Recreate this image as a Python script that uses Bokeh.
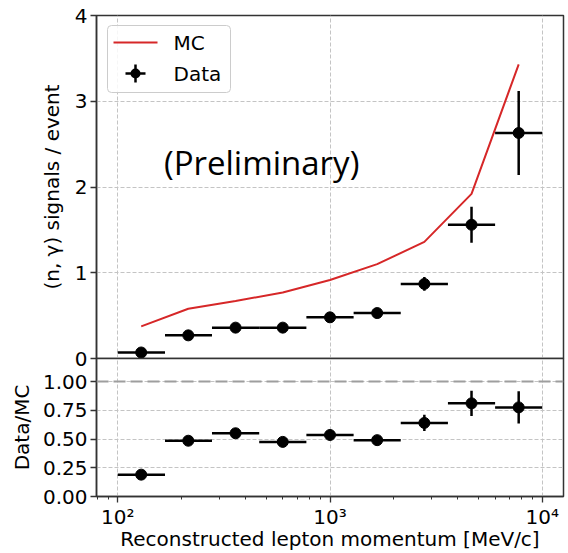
from bokeh.plotting import figure
from bokeh.layouts import column
from bokeh.models import (Range1d, FixedTicker, Label, BoxAnnotation, Arrow, Span,
                          ColumnDataSource, NumeralTickFormatter)
from bokeh.embed import file_html
from bokeh.resources import INLINE

# ---------------- data ----------------
bin_edges = [100, 167, 278, 464, 774, 1292, 2154, 3594, 5995, 10000]
bin_centers = [129, 215, 359, 599, 1000, 1668, 2783, 4642, 7743]
mc_signals = [0.375, 0.58, 0.67, 0.77, 0.915, 1.10, 1.36, 1.92, 3.43]
data_signals = [0.07, 0.27, 0.36, 0.36, 0.48, 0.53, 0.87, 1.56, 2.63]
data_errors = [0.02, 0.025, 0.03, 0.03, 0.035, 0.04, 0.08, 0.21, 0.49]
ratio_values = [0.19, 0.485, 0.55, 0.475, 0.535, 0.49, 0.64, 0.81, 0.775]
ratio_errors = [0.01, 0.015, 0.02, 0.02, 0.025, 0.02, 0.07, 0.11, 0.14]

x_tick_values = [100, 1000, 10000]
x_tick_labels = ["10²", "10³", "10⁴"]
x_minor_values = [80, 90, 200, 300, 400, 500, 600, 700, 800, 900,
                  2000, 3000, 4000, 5000, 6000, 7000, 8000, 9000]
top_y_ticks = [0, 1, 2, 3, 4]
bottom_y_ticks = [0.0, 0.25, 0.5, 0.75, 1.0]

FONT = "DejaVu Sans"
SPINE = "#333333"
GRID = "#c4c4c4"
RED = "#d62728"

W = 568
LEFT, RIGHT = 96, 5
TOP1, F1, BOT1 = 15, 343, 12
TOP2, F2, BOT2 = 12, 138, 57

x_range = Range1d(10 ** 1.9, 10 ** 4.1)


def make_source(y, err):
    return ColumnDataSource(dict(
        x=bin_centers, lo=bin_edges[:-1], hi=bin_edges[1:], y=y,
        ylo=[v - e for v, e in zip(y, err)], yhi=[v + e for v, e in zip(y, err)]))


def style(p):
    p.outline_line_color = SPINE
    p.outline_line_width = 1.5
    p.background_fill_color = "white"
    for ax in (p.xaxis[0], p.yaxis[0]):
        ax.axis_line_color = SPINE
        ax.axis_line_width = 1.5
        ax.major_tick_line_color = SPINE
        ax.minor_tick_line_color = SPINE
        ax.major_tick_line_width = 1.3
        ax.minor_tick_line_width = 1.0
        ax.major_tick_in = 0
        ax.major_tick_out = 6
        ax.minor_tick_in = 0
        ax.minor_tick_out = 3
        ax.major_label_text_font = FONT
        ax.major_label_text_font_size = "20px"
        ax.major_label_text_color = "black"
        ax.axis_label_text_font = FONT
        ax.axis_label_text_font_size = "20px"
        ax.axis_label_text_font_style = "normal"
        ax.axis_label_text_color = "black"
        ax.major_label_standoff = 3
        ax.axis_label_standoff = 8
    p.yaxis[0].minor_tick_line_color = None
    for g in (p.xgrid[0], p.ygrid[0]):
        g.grid_line_color = GRID
        g.grid_line_dash = "4 2"
        g.grid_line_width = 1
    p.xgrid[0].ticker = FixedTicker(ticks=x_tick_values)


def draw_points(p, src):
    p.segment(x0="lo", x1="hi", y0="y", y1="y", source=src, line_color="black", line_width=2.5)
    p.segment(x0="x", x1="x", y0="ylo", y1="yhi", source=src, line_color="black", line_width=2.5)
    p.scatter("x", "y", source=src, size=11, fill_color="black", line_color="black")


def screen_box(**kw):
    return BoxAnnotation(left_units="screen", right_units="screen",
                         top_units="screen", bottom_units="screen", **kw)


def screen_line(x0, y0, x1, y1, color, width):
    return Arrow(end=None, x_start=x0, y_start=y0, x_end=x1, y_end=y1,
                 start_units="screen", end_units="screen",
                 line_color=color, line_width=width)


# ---------------- top panel ----------------
p1 = figure(width=W, height=TOP1 + F1 + BOT1, x_axis_type="log", x_range=x_range,
            y_range=Range1d(0, 4), output_backend="svg", toolbar_location=None,
            min_border_left=LEFT, min_border_right=RIGHT,
            min_border_top=TOP1, min_border_bottom=BOT1)
style(p1)
p1.border_fill_color = "white"
p1.xaxis.visible = False
p1.yaxis.ticker = FixedTicker(ticks=top_y_ticks)
p1.ygrid.ticker = FixedTicker(ticks=top_y_ticks)
p1.yaxis.axis_label = "(n, γ) signals / event"

p1.line(bin_centers, mc_signals, line_color=RED, line_width=2)
draw_points(p1, make_source(data_signals, data_errors))

p1.add_layout(Label(x=165, y=2.28, text="(Preliminary)", text_baseline="middle",
                    text_font="Open Sans", text_font_size="33px", text_color="black"))

# legend drawn by hand (frame-relative screen units, y measured up from frame bottom)
lg_top = F1 - 10
lg_bot = F1 - 77
mc_y = F1 - 27
dt_y = F1 - 58
p1.add_layout(screen_box(left=11, right=134, top=lg_top, bottom=lg_bot,
                         fill_color="white", fill_alpha=0.85,
                         line_color="#cccccc", line_alpha=1.0, line_width=1,
                         border_radius=4))
p1.add_layout(screen_line(17, mc_y, 61, mc_y, RED, 2))
p1.add_layout(screen_line(29, dt_y, 49, dt_y, "black", 2.5))
p1.add_layout(screen_line(39, dt_y - 9, 39, dt_y + 9, "black", 2.5))
p1.add_layout(screen_box(left=34, right=44, bottom=dt_y - 5, top=dt_y + 5,
                         fill_color="black", fill_alpha=1.0, line_alpha=0,
                         border_radius=5))
for txt, yy in (("MC", mc_y), ("Data", dt_y)):
    p1.add_layout(Label(x=77, y=yy, x_units="screen", y_units="screen", text=txt,
                        text_baseline="middle", text_font=FONT, text_font_size="20px",
                        text_color="black"))

# ---------------- bottom panel ----------------
p2 = figure(width=W, height=TOP2 + F2 + BOT2, x_axis_type="log", x_range=x_range,
            y_range=Range1d(0, 1.2), output_backend="svg", toolbar_location=None,
            min_border_left=LEFT, min_border_right=RIGHT,
            min_border_top=TOP2, min_border_bottom=BOT2,
            margin=(-(BOT1 + TOP2), 0, 0, 0))
style(p2)
p2.border_fill_alpha = 0
p2.xaxis.ticker = FixedTicker(ticks=x_tick_values, minor_ticks=x_minor_values)
p2.xaxis.major_label_overrides = dict(zip(x_tick_values, x_tick_labels))
p2.xaxis.major_label_standoff = 2
p2.xaxis.axis_label_standoff = -5
p2.xaxis.axis_label = "Reconstructed lepton momentum [MeV/c]"
p2.yaxis.ticker = FixedTicker(ticks=bottom_y_ticks)
p2.ygrid.ticker = FixedTicker(ticks=bottom_y_ticks)
p2.yaxis.formatter = NumeralTickFormatter(format="0.00")
p2.yaxis.axis_label = "Data/MC"
p2.yaxis.axis_label_standoff = 6

p2.add_layout(Span(location=1.0, dimension="width", line_color="#9e9e9e",
                   line_width=2, line_dash="12 5"))
draw_points(p2, make_source(ratio_values, ratio_errors))

layout = column(p1, p2)
open("out.html", "w").write(file_html(layout, INLINE))
